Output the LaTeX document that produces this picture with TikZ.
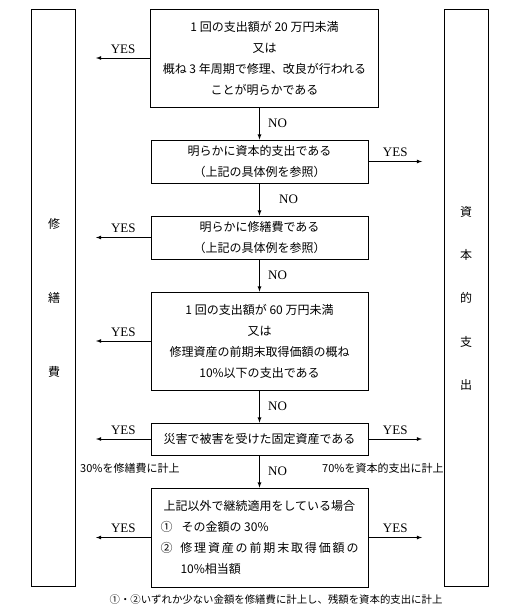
\documentclass[tikz,border=0pt]{standalone}
\usepackage{fontspec}
\setmainfont{Liberation Serif}
\newfontfamily\jp{Noto Sans CJK JP}

\begin{document}
\begin{tikzpicture}[x=1pt, y=-1pt,
  box/.style={draw, line width=0.8pt, align=center, inner sep=0pt, font=\jp\fontsize{12}{21}\selectfont},
  col/.style={draw, line width=0.8pt, minimum width=44pt, minimum height=577pt, inner sep=0pt},
  arr/.style={-latex, line width=0.8pt},
  yes/.style={midway, above=1pt, font=\fontsize{13}{13}\selectfont},
  no/.style={midway, right=5pt, font=\fontsize{13}{13}\selectfont},
  note/.style={inner sep=0pt, font=\jp\fontsize{11}{11}\selectfont}]
  \useasboundingbox (0,0) rectangle (506,609);
  \node[col] (repair) at (53.5,297.5) {};
  \node[col] (capital) at (466,297.5) {};
  \foreach \c/\y [count=\i] in {修/224, 繕/298, 費/372}
    \node[font=\jp\fontsize{12}{12}\selectfont] (rep-\i) at (54,\y) {\c};
  \foreach \c/\y [count=\i] in {資/212, 本/255, 的/298, 支/342, 出/385}
    \node[font=\jp\fontsize{12}{12}\selectfont] (cap-\i) at (466,\y) {\c};
  \coordinate (lft) at (96,0);
  \coordinate (rgt) at (422,0);

  \node[box, minimum width=228pt, minimum height=98pt] (q1) at (264.5,58)
    {1 回の支出額が 20 万円未満\\又は\\概ね 3 年周期で修理、改良が行われる\\ことが明らかである};
  \node[box, minimum width=217pt, minimum height=43pt] (q2) at (259.5,161.5)
    {明らかに資本的支出である\\（上記の具体例を参照）};
  \node[box, minimum width=217pt, minimum height=43pt] (q3) at (259.5,237.5)
    {明らかに修繕費である\\（上記の具体例を参照）};
  \node[box, minimum width=217pt, minimum height=98pt] (q4) at (259.5,341)
    {1 回の支出額が 60 万円未満\\又は\\修理資産の前期末取得価額の概ね\\10\%以下の支出である};
  \node[box, minimum width=217pt, minimum height=32pt] (q5) at (259.5,439)
    {災害で被害を受けた固定資産である};
  \node[box, minimum width=217pt, minimum height=99pt, align=left] (q6) at (259.5,537.5)
    {\hspace*{3pt}上記以外で継続適用をしている場合\\
     ①\hspace*{9pt}その金額の 30\%\\
     \makebox[198pt][s]{②\hspace*{6pt} 修 理 資 産 の 前 期 末 取 得 価 額 の}\\
     \hspace*{20pt}10\%相当額};

  \draw[arr] (q1.south -| q2.north) -- (q2.north) node[no] {NO};
  \draw[arr] (q2) -- (q3) node[no, xshift=11pt] {NO};
  \draw[arr] (q3) -- (q4) node[no] {NO};
  \draw[arr] (q4) -- (q5) node[no] {NO};
  \draw[arr] (q5) -- (q6) node[no] {NO};

  \draw[arr] (q1.west) -- (q1.west -| lft) node[yes] {YES};
  \draw[arr] (q2.east) -- (q2.east -| rgt) node[yes] {YES};
  \draw[arr] (q3.west) -- (q3.west -| lft) node[yes] {YES};
  \draw[arr] (q4.west) -- (q4.west -| lft) node[yes] {YES};
  \draw[arr] (q5.west) -- (q5.west -| lft) node[yes] {YES};
  \draw[arr] (q5.east) -- (q5.east -| rgt) node[yes] {YES};
  \draw[arr] (q6.west) -- (q6.west -| lft) node[yes] {YES};
  \draw[arr] (q6.east) -- (q6.east -| rgt) node[yes] {YES};

  \node[note, anchor=west] (n30) at (80,468) {30\%を修繕費に計上};
  \node[note, anchor=west] (n70) at (322,468) {70\%を資本的支出に計上};
  \node[note, font=\jp\fontsize{10.4}{10.4}\selectfont] (foot) at (276,600)
    {①・②いずれか少ない金額を修繕費に計上し、残額を資本的支出に計上};
\end{tikzpicture}
\end{document}
